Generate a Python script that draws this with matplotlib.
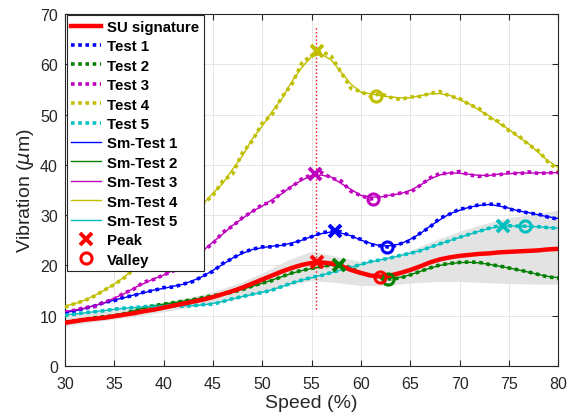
import numpy as np
import matplotlib
matplotlib.use('Agg')
import matplotlib.pyplot as plt
from matplotlib.lines import Line2D

plt.rcParams['font.family'] = ['Liberation Sans', 'DejaVu Sans']

# speed axis (%), one sample per percent
speed = np.arange(30, 81)

test1 = [10.5, 10.9, 11.5, 11.9, 12.7, 13.0, 13.7, 14.0, 14.7, 15.0,
         15.6, 15.7, 16.3, 16.8, 17.9, 18.8, 20.4, 21.4, 22.6, 23.2,
         23.7, 23.7, 24.1, 24.2, 25.1, 25.7, 26.5, 26.8, 26.7, 25.8,
         25.2, 24.1, 23.9, 23.6, 24.3, 24.9, 26.4, 27.6, 29.4, 30.2,
         31.2, 31.5, 32.1, 32.2, 32.1, 31.2, 30.9, 30.4, 30.2, 29.6, 29.2]
test2 = [8.7, 9.0, 9.3, 9.6, 9.8, 10.0, 10.4, 11.0, 11.6, 12.0,
         12.3, 12.6, 12.9, 13.2, 13.6, 14.0, 14.3, 14.7, 15.2, 15.9,
         16.5, 17.0, 17.8, 18.5, 19.0, 19.4, 19.8, 20.1, 20.2, 19.5,
         18.5, 17.9, 17.5, 17.3, 17.5, 18.1, 18.8, 19.5, 20.1, 20.4,
         20.6, 20.7, 20.6, 20.2, 19.9, 19.5, 19.1, 18.7, 18.2, 17.7, 17.5]
test3 = [10.7, 11.1, 11.6, 11.8, 12.7, 13.3, 14.5, 15.3, 16.7, 17.2,
         18.1, 18.9, 20.3, 21.5, 23.0, 24.3, 26.6, 27.8, 29.5, 30.7,
         32.1, 32.6, 34.6, 35.6, 37.2, 38.0, 38.5, 37.4, 36.8, 34.7,
         33.9, 33.2, 33.7, 33.9, 34.4, 34.5, 35.9, 37.4, 38.3, 38.3,
         38.7, 38.0, 37.7, 38.0, 38.0, 38.5, 38.2, 38.6, 38.3, 38.4, 38.5]
test4 = [11.7, 12.4, 13.0, 13.9, 15.1, 16.2, 17.5, 19.3, 21.0, 22.8,
         24.6, 26.4, 28.4, 30.4, 32.3, 33.9, 36.8, 38.2, 42.4, 44.8,
         48.3, 50.0, 53.5, 56.0, 60.2, 61.8, 62.6, 61.6, 58.4, 55.2,
         54.6, 53.6, 54.2, 53.4, 53.0, 53.5, 53.6, 54.2, 54.6, 53.7,
         53.2, 52.0, 51.2, 49.4, 48.6, 46.8, 45.8, 44.0, 42.8, 40.5, 39.0]
test5 = [10.1, 10.3, 10.6, 10.8, 11.0, 11.3, 11.5, 11.6, 11.8, 11.9,
         12.0, 12.0, 11.9, 12.0, 12.2, 12.3, 12.8, 13.4, 13.8, 14.3,
         14.6, 15.1, 15.8, 16.5, 17.1, 17.6, 18.0, 18.6, 19.1, 19.6,
         20.2, 20.8, 21.1, 21.5, 22.0, 22.4, 22.9, 23.6, 24.3, 24.9,
         25.6, 26.2, 26.8, 27.4, 27.9, 27.9, 27.8, 27.8, 27.7, 27.5, 27.4]

su_sig = [8.6, 8.9, 9.2, 9.4, 9.6, 9.9, 10.2, 10.5, 10.9, 11.2,
          11.6, 12.0, 12.4, 12.8, 13.2, 13.7, 14.3, 14.9, 15.6, 16.4,
          17.2, 18.0, 18.8, 19.5, 20.1, 20.5, 20.6, 20.4, 19.9, 19.1,
          18.5, 18.0, 17.8, 18.0, 18.5, 19.1, 19.8, 20.6, 21.2, 21.6,
          21.9, 22.1, 22.3, 22.4, 22.6, 22.7, 22.8, 22.9, 23.0, 23.2, 23.3]

# grey envelope around the signature
band_x = np.arange(30, 80.1, 2.5)
band_lo = [8.0, 8.7, 9.3, 10.0, 10.8, 11.6, 12.4, 13.4, 14.6, 16.0, 17.0,
           16.6, 16.0, 16.0, 16.5, 16.8, 16.8, 16.6, 16.4, 16.3, 16.3]
band_hi = [10.3, 10.8, 11.2, 11.8, 12.6, 13.6, 14.8, 16.4, 18.5, 21.0, 22.8,
           21.8, 20.8, 21.5, 23.0, 25.0, 26.8, 28.3, 29.5, 30.2, 31.0]

# peaks and valleys: test1..test5, then SU signature
peak_x = [57.4, 57.8, 55.4, 55.6, 74.4, 55.6]
peak_y = [26.8, 20.1, 38.2, 62.6, 27.9, 20.6]
valley_x = [62.6, 62.8, 61.2, 61.5, 76.6, 61.9]
valley_y = [23.7, 17.3, 33.3, 53.6, 27.8, 17.8]

peak_speed = 55.5
vline_y = [11.3, 67.4]

tests = [test1, test2, test3, test4, test5]
names = ['Test 1', 'Test 2', 'Test 3', 'Test 4', 'Test 5']
colors = ['#0000ff', '#008000', '#bf00bf', '#bfbf00', '#00bfbf']
mark_colors = colors + ['#ff0000']


def smooth(v):
    v = np.pad(np.asarray(v, float), 1, mode='edge')
    return np.convolve(v, np.ones(3) / 3, mode='valid')


fig = plt.figure(figsize=(5.69, 4.14), dpi=100)
ax = fig.add_axes([0.114, 0.1135, 0.867, 0.8502])

ax.fill_between(band_x, band_lo, band_hi, color='#e3e3e3', lw=0, zorder=1)

for t, c in zip(tests, colors):
    ax.plot(speed, t, color=c, ls=(0, (1, 1)), lw=2.6, zorder=3)
for t, c in zip(tests, colors):
    ax.plot(speed, smooth(t), color=c, lw=1, zorder=4)

ax.plot(speed, su_sig, color='r', lw=3.2, zorder=5)
ax.plot([peak_speed, peak_speed], vline_y, color='r', ls=':', lw=1, zorder=2)

for i, c in enumerate(mark_colors):
    ax.plot(peak_x[i], peak_y[i], 'x', color=c, ms=8, mew=2.8, zorder=6)
    ax.plot(valley_x[i], valley_y[i], 'o', mfc='none', mec=c, ms=8, mew=2.2, zorder=6)

ax.set_xlim(30, 80)
ax.set_ylim(0, 70)
ax.set_xticks(np.arange(30, 81, 5))
ax.set_yticks(np.arange(0, 71, 10))
ax.grid(True, color='#e6e6e6', lw=0.7)
ax.set_axisbelow(True)
ax.tick_params(direction='in', top=True, right=True, length=4, labelsize=11.5,
               colors='#262626')
ax.tick_params(axis='x', pad=7)
ax.tick_params(axis='y', pad=5)
for s in ax.spines.values():
    s.set_color('#262626')
    s.set_linewidth(0.8)

ax.set_xlabel('Speed (%)', fontsize=14, color='#262626', labelpad=2)
ax.set_ylabel(r'Vibration ($\mu$m)', fontsize=14, color='#262626', labelpad=3)

handles = [Line2D([], [], color='r', lw=3.2)]
labels = ['SU signature']
for n, c in zip(names, colors):
    handles.append(Line2D([], [], color=c, ls=(0, (1, 1)), lw=2.6))
    labels.append(n)
for n, c in zip(names, colors):
    handles.append(Line2D([], [], color=c, lw=1))
    labels.append('Sm-' + n)
handles.append(Line2D([], [], ls='none', marker='x', color='r', ms=8, mew=2.8))
labels.append('Peak')
handles.append(Line2D([], [], ls='none', marker='o', mfc='none', mec='r', ms=8, mew=2.2))
labels.append('Valley')

leg = ax.legend(handles, labels, loc='upper left', bbox_to_anchor=(0.004, 0.996),
                prop={'weight': 'bold', 'size': 10.8}, handlelength=2.0,
                handletextpad=0.4, labelspacing=0.36, borderpad=0.3,
                fancybox=False, framealpha=1, edgecolor='#262626', borderaxespad=0)
leg.get_frame().set_linewidth(0.8)

fig.savefig('out.png', dpi=100)
